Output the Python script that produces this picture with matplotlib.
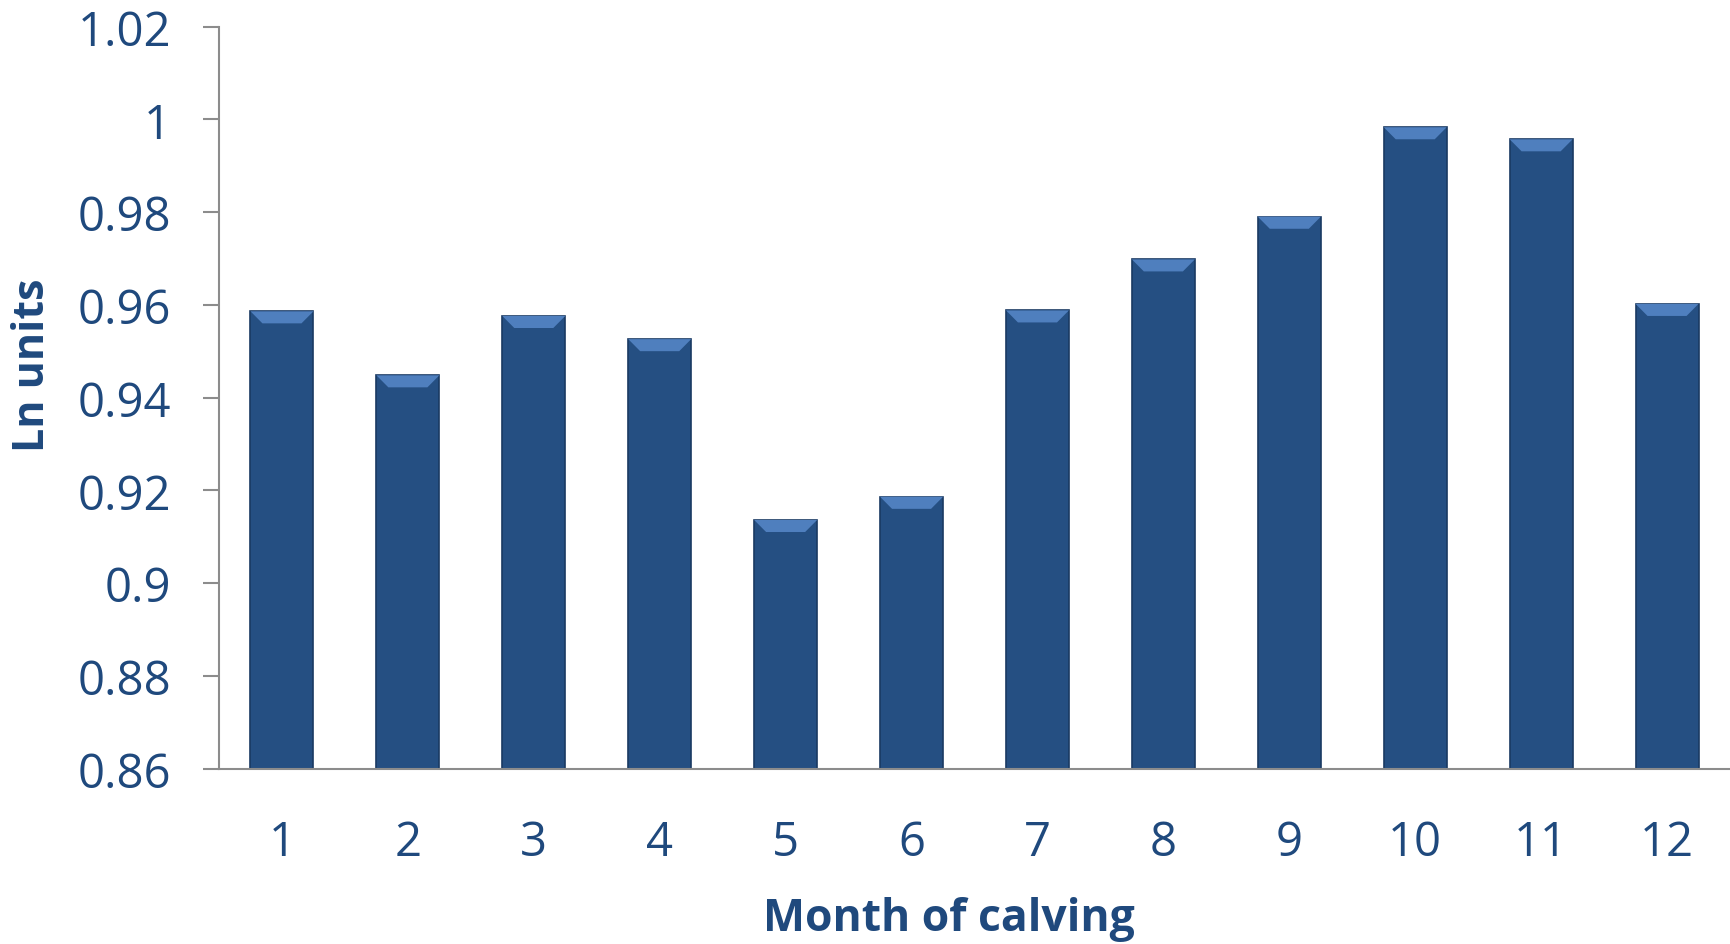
import numpy as np
import matplotlib.pyplot as plt
from matplotlib.patches import Polygon

months = ["1", "2", "3", "4", "5", "6", "7", "8", "9", "10", "11", "12"]
ln_units = [0.9586, 0.9448, 0.9576, 0.9526, 0.9136, 0.9186,
            0.9588, 0.9698, 0.9790, 0.9983, 0.9957, 0.9602]

text_col = "#1F497D"
bar_col = "#254F82"
axis_col = "#8C8C8C"

plt.rcParams['font.family'] = ['Open Sans', 'DejaVu Sans']

fig = plt.figure(figsize=(17.31, 9.45), dpi=100)
ax = fig.add_axes([219 / 1731, (945 - 769.5) / 945,
                   (1730 - 219) / 1731, (769.5 - 27.6) / 945])

x = np.arange(len(months))
width = 0.5
base = 0.86
bars = ax.bar(x, np.array(ln_units) - base, width, bottom=base,
              color=bar_col, edgecolor="#1A3A62", linewidth=1.2, zorder=2)

# bevel on top of each bar
bh = 0.0026
inset = 0.095
for xi, v in zip(x, ln_units):
    l, r = xi - width / 2, xi + width / 2
    poly = Polygon([(l, v), (r, v), (r - inset, v - bh), (l + inset, v - bh)],
                   closed=True, facecolor="#4F7FBE", edgecolor="none", zorder=3)
    ax.add_patch(poly)

ax.set_xlim(-0.5, len(months) - 0.5)
ax.set_ylim(0.86, 1.02)
ax.set_yticks(np.arange(0.86, 1.0201, 0.02))
ax.set_yticklabels(["0.86", "0.88", "0.9", "0.92", "0.94", "0.96", "0.98", "1", "1.02"])
ax.set_xticks(x)
ax.set_xticklabels(months)

for s in ["top", "right"]:
    ax.spines[s].set_visible(False)
for s in ["left", "bottom"]:
    ax.spines[s].set_color(axis_col)
    ax.spines[s].set_linewidth(1.5)

ax.tick_params(axis="y", length=11.5, width=1.5, color=axis_col,
               labelsize=34, labelcolor=text_col, pad=23)
ax.tick_params(axis="x", length=0, labelsize=34, labelcolor=text_col, pad=36)

fig.text(33 / 1731, 1 - 365 / 945, "Ln units", rotation=90, fontsize=31,
         fontweight="bold", color=text_col, ha="center", va="center")
fig.text(949 / 1731, 1 - 920 / 945, "Month of calving", fontsize=32,
         fontweight="bold", color=text_col, ha="center", va="center")

fig.savefig("out.png", dpi=100)
